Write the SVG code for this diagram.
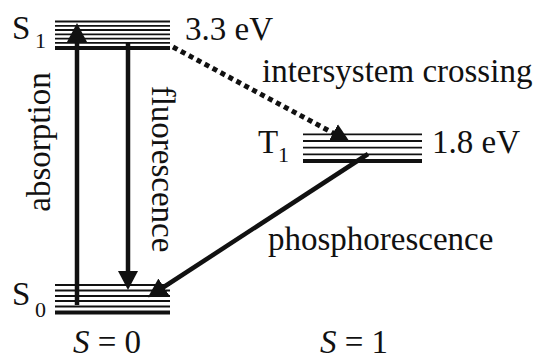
<svg xmlns="http://www.w3.org/2000/svg" width="535" height="359" viewBox="0 0 535 359">
<style>
text{font-family:"Liberation Serif","Times New Roman",serif;fill:#111;font-size:33px}
.sub{font-size:22px}
.thin{stroke:#111;stroke-width:1.8}
.thick{stroke:#111;stroke-width:4}
.arr{stroke:#111;stroke-width:4.5;fill:none}
.dot{stroke:#111;stroke-width:5;fill:none;stroke-dasharray:5 4}
.it{font-style:italic}
</style>
<defs>
<marker id="ah" markerUnits="userSpaceOnUse" markerWidth="20" markerHeight="22" viewBox="0 -11 20 22" refX="1" refY="0" orient="auto">
<path d="M0,-10 L19,0 L0,10 z" fill="#111"/>
</marker>
</defs>
<rect width="535" height="359" fill="#fff"/>
<g id="S1">
<line class="thin" x1="55" y1="21.5" x2="170" y2="21.5"/>
<line class="thin" x1="55" y1="25.8" x2="170" y2="25.8"/>
<line class="thin" x1="55" y1="30" x2="170" y2="30"/>
<line class="thin" x1="55" y1="34.3" x2="170" y2="34.3"/>
<line class="thin" x1="55" y1="38.6" x2="170" y2="38.6"/>
<line class="thin" x1="55" y1="42.9" x2="170" y2="42.9"/>
<line class="thick" x1="55" y1="48" x2="170" y2="48"/>
<text x="12" y="39">S</text><text class="sub" x="35" y="48">1</text>
<text x="185" y="40">3.3 eV</text>
</g>
<g id="S0">
<line class="thin" x1="55" y1="285" x2="170" y2="285"/>
<line class="thin" x1="55" y1="290.5" x2="170" y2="290.5"/>
<line class="thin" x1="55" y1="296" x2="170" y2="296"/>
<line class="thin" x1="55" y1="301" x2="170" y2="301"/>
<line class="thin" x1="55" y1="306.5" x2="170" y2="306.5"/>
<line class="thick" x1="55" y1="312.5" x2="170" y2="312.5"/>
<text x="12" y="305">S</text><text class="sub" x="35" y="317">0</text>
</g>
<g id="T1">
<line class="thin" x1="303" y1="134.3" x2="422" y2="134.3"/>
<line class="thin" x1="303" y1="141" x2="422" y2="141"/>
<line class="thin" x1="303" y1="147.7" x2="422" y2="147.7"/>
<line class="thin" x1="303" y1="154.3" x2="422" y2="154.3"/>
<line class="thick" x1="303" y1="161" x2="422" y2="161"/>
<text x="258" y="153">T</text><text class="sub" x="278" y="162">1</text>
<text x="432" y="153">1.8 eV</text>
</g>
<g id="connectors">
<line class="arr" x1="77" y1="305" x2="77" y2="41" marker-end="url(#ah)"/>
<line class="arr" x1="128" y1="43" x2="128" y2="272" marker-end="url(#ah)"/>
<line class="dot" x1="173" y1="47" x2="334" y2="133.5" marker-end="url(#ah)"/>
<line class="arr" x1="368" y1="154" x2="163" y2="287.5" marker-end="url(#ah)"/>
</g>
<g id="labels">
<text transform="translate(50,142) rotate(-90)" text-anchor="middle">absorption</text>
<text transform="translate(152,169) rotate(90)" text-anchor="middle">fluorescence</text>
<text x="262" y="82">intersystem crossing</text>
<text x="268" y="250">phosphorescence</text>
<text x="73" y="353"><tspan class="it">S</tspan> = 0</text>
<text x="320" y="353"><tspan class="it">S</tspan> = 1</text>
</g>
</svg>
